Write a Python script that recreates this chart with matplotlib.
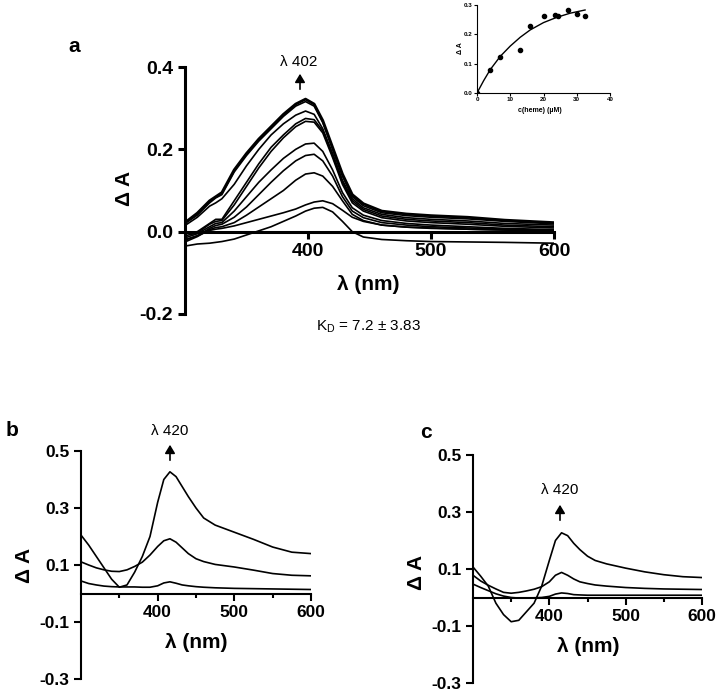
import matplotlib
matplotlib.use("Agg")
import matplotlib.pyplot as plt

plt.rcParams["font.family"] = ["Liberation Sans", "DejaVu Sans"]

# ---- data: panel a (heme titration spectra) ----
wl_a = [300, 310, 320, 325, 330, 340, 350, 360, 370, 380, 390, 398, 405, 412,
        420, 428, 436, 445, 460, 480, 500, 530, 560, 600]
spectra_a = [
    [0.022, 0.045, 0.075, 0.085, 0.095, 0.150, 0.190, 0.225, 0.255, 0.285, 0.310, 0.322, 0.310, 0.270,
     0.205, 0.140, 0.090, 0.068, 0.050, 0.043, 0.039, 0.035, 0.028, 0.022],
    [0.020, 0.040, 0.070, 0.082, 0.090, 0.145, 0.185, 0.220, 0.250, 0.280, 0.305, 0.316, 0.305, 0.265,
     0.200, 0.135, 0.085, 0.063, 0.046, 0.039, 0.035, 0.031, 0.025, 0.019],
    [0.015, 0.035, 0.062, 0.070, 0.080, 0.115, 0.160, 0.200, 0.235, 0.262, 0.283, 0.293, 0.285, 0.250,
     0.190, 0.125, 0.080, 0.058, 0.042, 0.034, 0.030, 0.026, 0.020, 0.016],
    [-0.005, 0.000, 0.020, 0.030, 0.030, 0.075, 0.120, 0.165, 0.205, 0.235, 0.262, 0.275, 0.272, 0.245,
     0.185, 0.120, 0.075, 0.054, 0.038, 0.030, 0.026, 0.022, 0.016, 0.012],
    [-0.010, -0.003, 0.018, 0.025, 0.027, 0.065, 0.110, 0.155, 0.195, 0.228, 0.255, 0.268, 0.266, 0.240,
     0.180, 0.115, 0.070, 0.050, 0.034, 0.026, 0.022, 0.018, 0.013, 0.009],
    [-0.015, -0.005, 0.012, 0.020, 0.022, 0.050, 0.085, 0.120, 0.150, 0.178, 0.200, 0.213, 0.215, 0.195,
     0.150, 0.095, 0.058, 0.040, 0.027, 0.020, 0.016, 0.012, 0.008, 0.005],
    [-0.020, -0.010, 0.008, 0.015, 0.018, 0.035, 0.060, 0.090, 0.120, 0.148, 0.172, 0.185, 0.188, 0.172,
     0.135, 0.085, 0.050, 0.034, 0.022, 0.016, 0.012, 0.009, 0.006, 0.003],
    [-0.025, -0.012, 0.005, 0.010, 0.012, 0.022, 0.040, 0.060, 0.080, 0.100, 0.125, 0.140, 0.143, 0.135,
     0.110, 0.075, 0.042, 0.027, 0.016, 0.011, 0.008, 0.006, 0.004, 0.002],
    [-0.020, -0.010, 0.003, 0.006, 0.008, 0.014, 0.022, 0.030, 0.038, 0.046, 0.055, 0.065, 0.072, 0.075,
     0.068, 0.052, 0.035, 0.025, 0.016, 0.011, 0.009, 0.006, 0.004, 0.002],
    [-0.035, -0.030, -0.028, -0.026, -0.024, -0.018, -0.008, 0.002, 0.012, 0.025, 0.038, 0.050, 0.057, 0.059,
     0.048, 0.025, 0.000, -0.013, -0.019, -0.022, -0.024, -0.025, -0.026, -0.028],
]

# inset: binding curve
heme_conc = [0, 4, 7, 13, 16, 20, 23.5, 24.5, 27.5, 30, 32.5]
delta_a = [0.0, 0.078, 0.122, 0.148, 0.230, 0.263, 0.265, 0.262, 0.283, 0.268, 0.262]
fit_conc = [0, 2, 4, 7, 10, 13, 16, 20, 24, 28, 32.5]
fit_da = [0.0, 0.042, 0.080, 0.125, 0.160, 0.190, 0.215, 0.240, 0.258, 0.272, 0.283]

# ---- data: panels b and c ----
wl_bc = [300, 310, 320, 330, 340, 350, 360, 370, 380, 390, 400, 408, 416, 424,
         432, 440, 450, 460, 475, 500, 525, 550, 575, 600]
spectra_b = [
    [0.205, 0.170, 0.130, 0.090, 0.050, 0.022, 0.030, 0.075, 0.130, 0.200, 0.320, 0.400, 0.427, 0.410,
     0.375, 0.340, 0.300, 0.265, 0.240, 0.215, 0.190, 0.163, 0.145, 0.140],
    [0.111, 0.100, 0.090, 0.083, 0.078, 0.077, 0.083, 0.095, 0.110, 0.135, 0.165, 0.185, 0.192, 0.180,
     0.160, 0.140, 0.122, 0.112, 0.102, 0.093, 0.082, 0.070, 0.064, 0.062],
    [0.044, 0.035, 0.030, 0.026, 0.024, 0.023, 0.023, 0.023, 0.022, 0.022, 0.027, 0.037, 0.041, 0.036,
     0.030, 0.027, 0.024, 0.022, 0.020, 0.018, 0.017, 0.016, 0.015, 0.014],
]
spectra_c = [
    [0.107, 0.075, 0.040, -0.020, -0.060, -0.085, -0.080, -0.050, -0.020, 0.040, 0.130, 0.200, 0.227, 0.217,
     0.190, 0.168, 0.145, 0.130, 0.118, 0.103, 0.090, 0.080, 0.073, 0.070],
    [0.078, 0.058, 0.043, 0.030, 0.018, 0.015, 0.018, 0.023, 0.029, 0.038, 0.055, 0.078, 0.088, 0.078,
     0.065, 0.055, 0.049, 0.044, 0.040, 0.035, 0.032, 0.030, 0.029, 0.028],
    [0.047, 0.035, 0.024, 0.013, 0.005, 0.000, -0.002, -0.002, -0.001, 0.000, 0.004, 0.012, 0.016, 0.014,
     0.010, 0.009, 0.008, 0.008, 0.008, 0.008, 0.008, 0.008, 0.008, 0.008],
]

W, H = 717, 692


def fx(px):
    return px / W


def fy(py):
    return 1 - py / H


def box(x0, y0, x1, y1):
    # pixel box -> [left, bottom, width, height]
    return [fx(x0), fy(y1), (x1 - x0) / W, (y1 - y0) / H]


def style_axes(ax, lw, fs):
    ax.spines["top"].set_visible(False)
    ax.spines["right"].set_visible(False)
    ax.spines["bottom"].set_position(("data", 0))
    ax.spines["left"].set_linewidth(lw)
    ax.spines["bottom"].set_linewidth(lw)
    ax.tick_params(width=lw, length=5, labelsize=fs, direction="out")
    for lab in ax.get_xticklabels() + ax.get_yticklabels():
        lab.set_fontweight("bold")


def arrow(x, y0, y1):
    fig.add_artist(plt.matplotlib.patches.FancyArrowPatch(
        (fx(x), fy(y0)), (fx(x), fy(y1)), transform=fig.transFigure,
        arrowstyle="-|>,head_length=5,head_width=3", color="black", lw=1.2))


fig = plt.figure(figsize=(W / 100, H / 100), dpi=100)

# ---- panel a ----
ax_a = fig.add_axes(box(185, 67, 554, 314))
for i, s in enumerate(spectra_a):
    ax_a.plot(wl_a, s, color="black", lw=2.0 if i == 0 else 1.2)
ax_a.set_xlim(300, 600)
ax_a.set_ylim(-0.2, 0.4)
ax_a.set_xticks([400, 500, 600])
ax_a.set_yticks([-0.2, 0.0, 0.2, 0.4])
ax_a.set_yticklabels(["-0.2", "0.0", "0.2", "0.4"])
style_axes(ax_a, 2.2, 14)

fig.text(fx(74), fy(47), "a", fontsize=15, fontweight="bold", ha="center", va="center")
fig.text(fx(124), fy(188), "Δ A", fontsize=15, fontweight="bold", rotation=90, ha="center", va="center")
fig.text(fx(368), fy(285), "λ (nm)", fontsize=15, fontweight="bold", ha="center", va="center")
fig.text(fx(299), fy(62), "λ 402", fontsize=11, ha="center", va="center")
arrow(300, 92, 71)
fig.text(fx(368), fy(327), r"K$_\mathregular{D}$ = 7.2 ± 3.83", fontsize=11, ha="center", va="center")

# ---- inset ----
ax_in = fig.add_axes(box(477, 5, 610, 93))
ax_in.plot(heme_conc, delta_a, "o", color="black", ms=3)
ax_in.plot(fit_conc, fit_da, color="black", lw=1.0)
ax_in.set_xlim(0, 40)
ax_in.set_ylim(0, 0.3)
ax_in.set_xticks([0, 10, 20, 30, 40])
ax_in.set_yticks([0.0, 0.1, 0.2, 0.3])
ax_in.set_yticklabels(["0.0", "0.1", "0.2", "0.3"])
ax_in.spines["top"].set_visible(False)
ax_in.spines["right"].set_visible(False)
ax_in.tick_params(width=0.8, length=2, labelsize=4.5, pad=1)
for lab in ax_in.get_xticklabels() + ax_in.get_yticklabels():
    lab.set_fontweight("bold")
fig.text(fx(460), fy(48), "Δ A", fontsize=5, fontweight="bold", rotation=90, ha="center", va="center")
fig.text(fx(540), fy(111), "c(heme) (µM)", fontsize=5, fontweight="bold", ha="center", va="center")

# ---- panels b and c ----
for spectra, pbox, letter, lpos, ylab, xlab, tpos, arr in [
    (spectra_b, box(81, 451, 311, 679), "b", (6, 430), (25, 565), (196, 643), (170, 431), (170, 463, 442)),
    (spectra_c, box(473, 455, 702, 683), "c", (420, 433), (417, 572), (588, 646), (560, 490), (560, 523, 502)),
]:
    ax = fig.add_axes(pbox)
    for s in spectra:
        ax.plot(wl_bc, s, color="black", lw=1.2)
    ax.set_xlim(300, 600)
    ax.set_ylim(-0.3, 0.5)
    ax.set_xticks([400, 500, 600])
    ax.set_xticks([350, 450, 550], minor=True)
    ax.set_yticks([-0.3, -0.1, 0.1, 0.3, 0.5])
    ax.set_yticklabels(["-0.3", "-0.1", "0.1", "0.3", "0.5"])
    style_axes(ax, 1.5, 12.5)
    ax.tick_params(which="minor", width=1.5, length=3)
    fig.text(fx(lpos[0]), fy(lpos[1]), letter, fontsize=15, fontweight="bold", ha="left", va="center")
    fig.text(fx(ylab[0]), fy(ylab[1]), "Δ A", fontsize=15, fontweight="bold", rotation=90, ha="center", va="center")
    fig.text(fx(xlab[0]), fy(xlab[1]), "λ (nm)", fontsize=15, fontweight="bold", ha="center", va="center")
    fig.text(fx(tpos[0]), fy(tpos[1]), "λ 420", fontsize=11, ha="center", va="center")
    arrow(*arr)

fig.savefig("out.png", dpi=100, facecolor="white")
